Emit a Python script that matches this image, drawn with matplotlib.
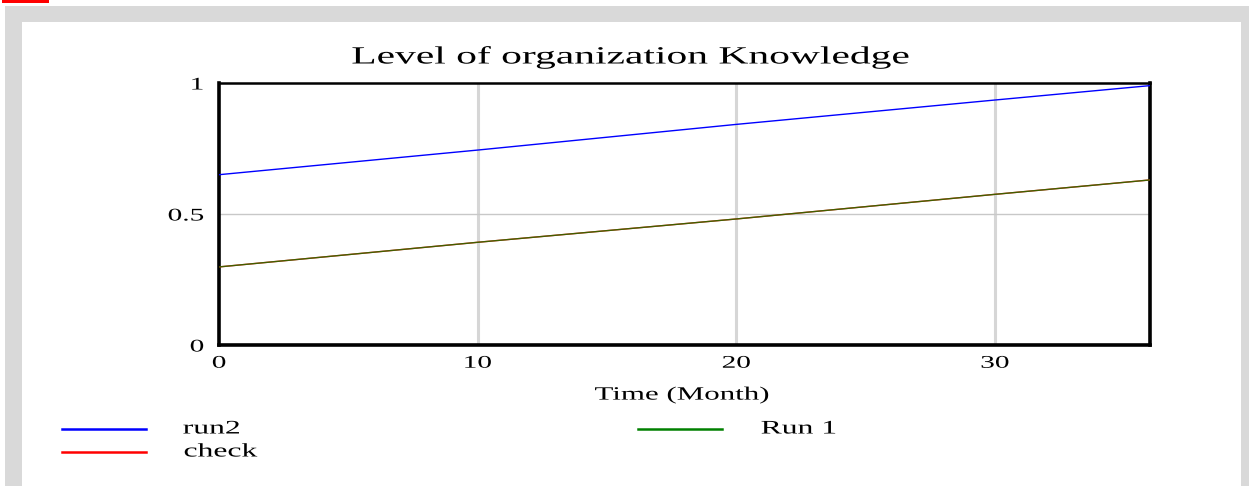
import matplotlib
matplotlib.use("Agg")
import matplotlib.pyplot as plt
from matplotlib.patches import Rectangle
from matplotlib.patheffects import AbstractPathEffect
from matplotlib.transforms import Affine2D

# Data
time = [0, 10, 20, 30, 36]
run2 = [0.65, 0.744, 0.842, 0.935, 0.99]
check = [0.298, 0.392, 0.481, 0.575, 0.63]
run1 = [0.298, 0.392, 0.481, 0.575, 0.63]
x_ticks = [0, 10, 20, 30]
x_ticklabels = ["0", "10", "20", "30"]
y_ticks = [0, 0.5, 1]
y_ticklabels = ["0", "0.5", "1"]
title = "Level of organization Knowledge"
xlabel = "Time (Month)"
legend_labels = ["run2", "check", "Run 1"]
legend_colors = ["#0000ff", "#ff0000", "#008000"]


class Stretch(AbstractPathEffect):
    """Horizontally stretch rendered glyphs (the source image is stretched)."""

    def __init__(self, sx=1.65, anchor="center"):
        super().__init__()
        self.sx = sx
        self.anchor = anchor

    def draw_path(self, renderer, gc, tpath, affine, rgbFace=None):
        ext = tpath.get_extents()
        if self.anchor == "left":
            a = ext.x0
        elif self.anchor == "right":
            a = ext.x1
        else:
            a = 0.5 * (ext.x0 + ext.x1)
        t = Affine2D().translate(-a, 0).scale(self.sx, 1).translate(a, 0) + affine
        renderer.draw_path(gc, tpath, t, rgbFace)


SX = 1.65
W, H = 1249, 486
fig = plt.figure(figsize=(W / 100, H / 100), dpi=100)
fig.patch.set_facecolor("white")


def px(x0, y0, w, h, **kw):
    fig.patches.append(Rectangle((x0 / W, 1 - (y0 + h) / H), w / W, h / H,
                                 transform=fig.transFigure, figure=fig, **kw))


px(5, 6, W - 5, H - 6, facecolor="#d9d9d9", edgecolor="none", zorder=-3)
px(22, 22, 1241 - 22, H - 22, facecolor="white", edgecolor="none", zorder=-2)
px(2, 0, 47, 3, facecolor="#ff0000", edgecolor="none", zorder=-1)

serif = ["Liberation Serif", "DejaVu Serif"]

L, R, T, B = 219, 1150, 83, 345
ax = fig.add_axes([L / W, 1 - B / H, (R - L) / W, (B - T) / H])
ax.set_xlim(0, 36)
ax.set_ylim(0, 1)

for xv in x_ticks[1:]:
    ax.axvline(xv, color="#d6d6d6", lw=2.2, zorder=0)
ax.axhline(0.5, color="#c8c8c8", lw=1.0, zorder=0)

ax.plot(time, run2, color=legend_colors[0], lw=1.0, zorder=3)
ax.plot(time, check, color=legend_colors[1], lw=1.0, zorder=3)
ax.plot(time, run1, color=legend_colors[2], lw=1.0, alpha=0.75, zorder=4)

ax.set_xticks(x_ticks)
ax.set_xticklabels(x_ticklabels, fontfamily=serif, fontsize=12.8)
ax.set_yticks(y_ticks)
ax.set_yticklabels(y_ticklabels, fontfamily=serif, fontsize=12.8)
ax.tick_params(length=0)
ax.tick_params(axis="x", pad=7)
ax.tick_params(axis="y", pad=11)
for lab in ax.get_xticklabels():
    lab.set_path_effects([Stretch(SX, "center")])
for lab in ax.get_yticklabels():
    lab.set_path_effects([Stretch(SX, "right")])

for s in ["left", "right", "bottom"]:
    ax.spines[s].set_linewidth(2.6)
ax.spines["top"].set_linewidth(1.8)
for s in ax.spines.values():
    s.set_color("black")

fig.text(631 / W, 1 - 57 / H, title, ha="center", va="center",
         fontfamily=serif, fontsize=17.8,
         path_effects=[Stretch(1.68, "center")])
fig.text(682 / W, 1 - 395 / H, xlabel, ha="center", va="center",
         fontfamily=serif, fontsize=13.5,
         path_effects=[Stretch(SX, "center")])


# legend
def leg(x0, x1, y, color, label, tx):
    fig.add_artist(plt.Line2D([x0 / W, x1 / W], [1 - y / H, 1 - y / H],
                              color=color, lw=1.8, transform=fig.transFigure))
    fig.text(tx / W, 1 - y / H, label, ha="left", va="center",
             fontfamily=serif, fontsize=13.8,
             path_effects=[Stretch(SX, "left")])


leg(62, 146, 429, legend_colors[0], legend_labels[0], 183)
leg(62, 146, 452, legend_colors[1], legend_labels[1], 184)
leg(638, 722, 429, legend_colors[2], legend_labels[2], 761)

fig.savefig("out.png", dpi=100)
